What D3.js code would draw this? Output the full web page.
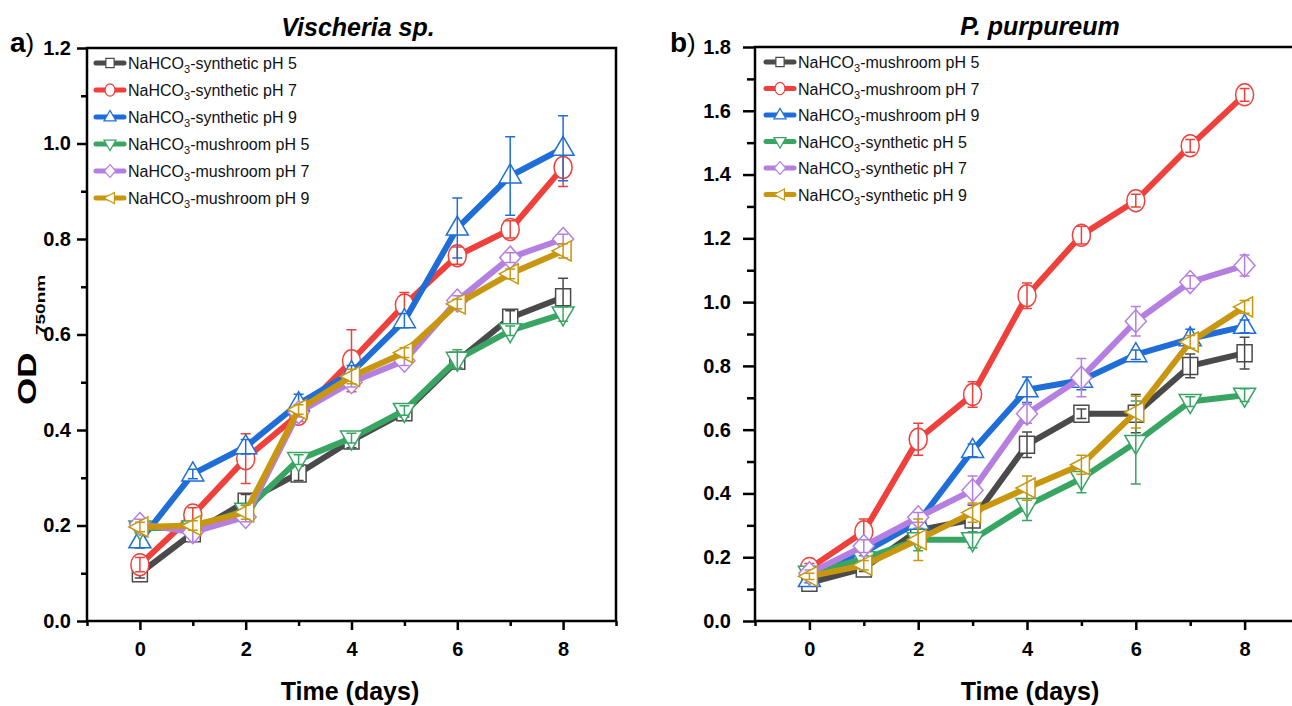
<!DOCTYPE html>
<html>
<head>
<meta charset="utf-8">
<script src="https://cdn.jsdelivr.net/npm/d3@7"></script>
<style>
  body { margin: 0; background: #fff; }
  svg text { font-family: "Liberation Sans", Arial, sans-serif; }
  .axis path.domain { display: none; }
  .axis line { stroke: #000; stroke-width: 2.5; }
  .axis text { font-size: 20px; font-weight: bold; fill: #000; }
</style>
</head>
<body>
<svg id="chart" width="1292" height="706"></svg>
<script>
// days of culture (x axis)
var days = [0, 1, 2, 3, 4, 5, 6, 7, 8];

// panel a: Vischeria sp.
var aSynPH5 = [0.10, 0.184, 0.25, 0.309, 0.378, 0.437, 0.545, 0.635, 0.678];
var aSynPH5Err = [0.01, 0.01, 0.015, 0.015, 0.015, 0.01, 0.015, 0.015, 0.04];
var aSynPH7 = [0.118, 0.222, 0.34, 0.433, 0.545, 0.662, 0.765, 0.82, 0.95];
var aSynPH7Err = [0.015, 0.015, 0.052, 0.015, 0.065, 0.026, 0.018, 0.018, 0.04];
var aSynPH9 = [0.168, 0.308, 0.365, 0.455, 0.52, 0.629, 0.823, 0.932, 0.99];
var aSynPH9Err = [0.015, 0.01, 0.015, 0.02, 0.015, 0.015, 0.063, 0.082, 0.068];
var aMusPH5 = [0.195, 0.195, 0.232, 0.338, 0.383, 0.441, 0.548, 0.608, 0.643];
var aMusPH5Err = [0.01, 0.01, 0.01, 0.01, 0.01, 0.01, 0.02, 0.01, 0.015];
var aMusPH7 = [0.203, 0.186, 0.218, 0.437, 0.50, 0.545, 0.671, 0.761, 0.80];
var aMusPH7Err = [0.01, 0.02, 0.01, 0.01, 0.01, 0.01, 0.01, 0.01, 0.01];
var aMusPH9 = [0.197, 0.2, 0.228, 0.443, 0.512, 0.562, 0.664, 0.727, 0.775];
var aMusPH9Err = [0.01, 0.01, 0.015, 0.01, 0.015, 0.01, 0.01, 0.01, 0.015];

// panel b: P. purpureum
var bMusPH5 = [0.12, 0.165, 0.285, 0.318, 0.553, 0.65, 0.65, 0.80, 0.84];
var bMusPH5Err = [0.01, 0.01, 0.02, 0.045, 0.04, 0.015, 0.06, 0.037, 0.05];
var bMusPH7 = [0.165, 0.28, 0.57, 0.71, 1.02, 1.21, 1.318, 1.49, 1.65];
var bMusPH7Err = [0.015, 0.04, 0.05, 0.04, 0.04, 0.028, 0.02, 0.02, 0.02];
var bMusPH9 = [0.13, 0.215, 0.31, 0.535, 0.725, 0.755, 0.835, 0.885, 0.924];
var bMusPH9Err = [0.01, 0.01, 0.02, 0.02, 0.04, 0.03, 0.015, 0.03, 0.02];
var bSynPH5 = [0.15, 0.195, 0.255, 0.255, 0.362, 0.447, 0.56, 0.688, 0.708];
var bSynPH5Err = [0.01, 0.01, 0.035, 0.025, 0.047, 0.045, 0.13, 0.015, 0.02];
var bSynPH7 = [0.15, 0.235, 0.325, 0.41, 0.65, 0.763, 0.94, 1.063, 1.115];
var bSynPH7Err = [0.01, 0.02, 0.015, 0.045, 0.03, 0.06, 0.046, 0.02, 0.033];
var bSynPH9 = [0.14, 0.175, 0.255, 0.34, 0.417, 0.49, 0.655, 0.875, 0.985];
var bSynPH9Err = [0.01, 0.015, 0.065, 0.03, 0.038, 0.03, 0.05, 0.02, 0.02];

var aNames = ["-synthetic pH 5", "-synthetic pH 7", "-synthetic pH 9",
              "-mushroom pH 5", "-mushroom pH 7", "-mushroom pH 9"];
var bNames = ["-mushroom pH 5", "-mushroom pH 7", "-mushroom pH 9",
              "-synthetic pH 5", "-synthetic pH 7", "-synthetic pH 9"];

var colors = ["#4a4a4a", "#f0403c", "#1f6ed8", "#38a563", "#b47fe0", "#c8960f"];
var shapes = ["square", "circle", "up", "down", "diamond", "left"];

var svg = d3.select("#chart");
svg.append("rect").attr("width", 1292).attr("height", 706).attr("fill", "#fff");

// marker outlines, slightly taller than wide like the source
function markerPath(shape, k) {
  var p = d3.path();
  if (shape == "square") {
    p.rect(-7.5 * k, -8.5 * k, 15 * k, 17 * k);
  } else if (shape == "circle") {
    return "M" + (-9 * k) + ",0a" + 9 * k + "," + 11 * k + " 0 1,0 " + 18 * k + ",0a" +
      9 * k + "," + 11 * k + " 0 1,0 " + (-18 * k) + ",0Z";
  } else if (shape == "up") {
    p.moveTo(0, -12 * k); p.lineTo(11 * k, 7 * k); p.lineTo(-11 * k, 7 * k); p.closePath();
  } else if (shape == "down") {
    p.moveTo(0, 12 * k); p.lineTo(11 * k, -7 * k); p.lineTo(-11 * k, -7 * k); p.closePath();
  } else if (shape == "diamond") {
    p.moveTo(0, -11.5 * k); p.lineTo(10.5 * k, 0); p.lineTo(0, 11.5 * k); p.lineTo(-10.5 * k, 0); p.closePath();
  } else {
    p.moveTo(-11 * k, 0); p.lineTo(8 * k, -10 * k); p.lineTo(8 * k, 10 * k); p.closePath();
  }
  return p.toString();
}

var panels = [
  {
    x0: 87, x1: 616, yTop: 48, yBot: 621, yMax: 1.2, rightLine: true,
    title: "Vischeria sp.", titleX: 358, tag: "a", tagX: 10, labelX: 350,
    tickLen: 10, tickPad: 6, legendX: 96, legendY: 63, legendDy: 27,
    names: aNames,
    values: [aSynPH5, aSynPH7, aSynPH9, aMusPH5, aMusPH7, aMusPH9],
    errors: [aSynPH5Err, aSynPH7Err, aSynPH9Err, aMusPH5Err, aMusPH7Err, aMusPH9Err]
  },
  {
    x0: 755, x1: 1299, yTop: 47, yBot: 621, yMax: 1.8, rightLine: false,
    title: "P. purpureum", titleX: 1040, tag: "b", tagX: 670, labelX: 1030,
    tickLen: 12, tickPad: 12, legendX: 766, legendY: 62, legendDy: 26.5,
    names: bNames,
    values: [bMusPH5, bMusPH7, bMusPH9, bSynPH5, bSynPH7, bSynPH9],
    errors: [bMusPH5Err, bMusPH7Err, bMusPH9Err, bSynPH5Err, bSynPH7Err, bSynPH9Err]
  }
];

panels.forEach(function(p) {
  var g = svg.append("g");
  var x = d3.scaleLinear().domain([-1, 9]).range([p.x0, p.x1]);
  var y = d3.scaleLinear().domain([0, p.yMax]).range([p.yBot, p.yTop]);

  // major and minor ticks
  var yMajor = d3.range(0, p.yMax + 0.001, 0.2);
  var yMinor = d3.range(0.1, p.yMax, 0.2);

  g.append("g").attr("class", "axis")
    .attr("transform", "translate(0," + p.yBot + ")")
    .call(d3.axisBottom(x).tickValues([0, 2, 4, 6, 8]).tickSize(9).tickPadding(12).tickFormat(d3.format("d")));
  g.append("g").attr("class", "axis")
    .attr("transform", "translate(0," + p.yBot + ")")
    .call(d3.axisBottom(x).tickValues([-1, 1, 3, 5, 7, 9]).tickSize(5).tickFormat(""));
  g.append("g").attr("class", "axis")
    .attr("transform", "translate(" + p.x0 + ",0)")
    .call(d3.axisLeft(y).tickValues(yMajor).tickSize(p.tickLen).tickPadding(p.tickPad).tickFormat(d3.format(".1f")));
  g.append("g").attr("class", "axis")
    .attr("transform", "translate(" + p.x0 + ",0)")
    .call(d3.axisLeft(y).tickValues(yMinor).tickSize(p.tickLen - 4).tickFormat(""));

  // frame
  var frame = "M" + p.x1 + "," + p.yTop + "H" + p.x0 + "V" + p.yBot + "H" + p.x1;
  if (p.rightLine) frame += "V" + p.yTop;
  g.append("path").attr("d", frame).attr("fill", "none")
    .attr("stroke", "#000").attr("stroke-width", 2.5).attr("stroke-linecap", "square");

  // series
  var line = d3.line().x(function(d) { return x(d.day); }).y(function(d) { return y(d.v); });
  p.values.forEach(function(vals, i) {
    var pts = days.map(function(d, j) { return { day: d, v: vals[j], e: p.errors[i][j] }; });
    var sg = g.append("g");
    sg.append("path").datum(pts).attr("d", line)
      .attr("fill", "none").attr("stroke", colors[i])
      .attr("stroke-width", 6).attr("stroke-linejoin", "round");
    sg.selectAll(".mk").data(pts).enter().append("path")
      .attr("d", markerPath(shapes[i], 1))
      .attr("transform", function(d) { return "translate(" + x(d.day) + "," + y(d.v) + ")"; })
      .attr("fill", "#fff").attr("stroke", colors[i]).attr("stroke-width", 1.5);
    sg.selectAll(".eb").data(pts).enter().append("path")
      .attr("d", function(d) {
        var cx = x(d.day), t = y(d.v + d.e), b = y(d.v - d.e);
        return "M" + cx + "," + t + "V" + b + "M" + (cx - 5) + "," + t + "H" + (cx + 5) +
          "M" + (cx - 5) + "," + b + "H" + (cx + 5);
      })
      .attr("fill", "none").attr("stroke", colors[i]).attr("stroke-width", 1.5);

    // legend row
    var ly = p.legendY + i * p.legendDy;
    g.append("line").attr("x1", p.legendX).attr("x2", p.legendX + 28)
      .attr("y1", ly).attr("y2", ly)
      .attr("stroke", colors[i]).attr("stroke-width", 5).attr("stroke-linecap", "round");
    g.append("path").attr("d", markerPath(shapes[i], 0.55))
      .attr("transform", "translate(" + (p.legendX + 14) + "," + ly + ")")
      .attr("fill", "#fff").attr("stroke", colors[i]).attr("stroke-width", 1.2);
    var lt = g.append("text").attr("x", p.legendX + 32).attr("y", ly + 6)
      .attr("font-size", 16).attr("fill", "#111");
    lt.append("tspan").text("NaHCO");
    lt.append("tspan").attr("font-size", 11).attr("dy", 4).text("3");
    lt.append("tspan").attr("dy", -4).text(p.names[i]);
  });

  // titles and labels
  g.append("text").attr("x", p.titleX).attr("y", p.yTop - 12)
    .attr("text-anchor", "middle").attr("font-size", 25)
    .attr("font-weight", "bold").attr("font-style", "italic").text(p.title);
  var tag = g.append("text").attr("x", p.tagX).attr("y", 52).attr("font-size", 28);
  tag.append("tspan").attr("font-weight", "bold").text(p.tag);
  tag.append("tspan").attr("font-size", 26).text(")");
  g.append("text").attr("x", p.labelX).attr("y", 700)
    .attr("text-anchor", "middle").attr("font-size", 25).attr("font-weight", "bold")
    .text("Time (days)");
});

// y axis label of panel a
var od = svg.append("g").attr("transform", "translate(36,405) rotate(-90) scale(1,0.72)");
od.append("text").attr("x", 0).attr("y", 0).attr("font-size", 35).attr("font-weight", "bold").text("OD");
od.append("text").attr("x", 70).attr("y", 13).attr("font-size", 19).attr("font-weight", "bold").text("750nm");
</script>
</body>
</html>
